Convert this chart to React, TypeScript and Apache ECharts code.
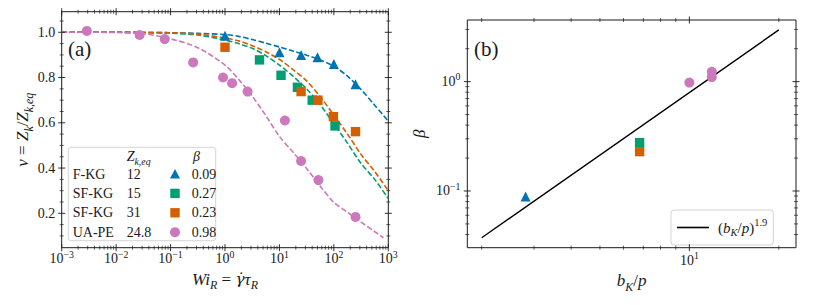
import React, { useEffect, useRef } from 'react';
import * as echarts from 'echarts';

const FONT = 'Liberation Serif, DejaVu Serif, serif';
const INK = '#1a1a1a';
const C_FKG = '#0173B2';
const C_SF15 = '#029E73';
const C_SF31 = '#D55E00';
const C_UAPE = '#CC78BC';

// ---------- Panel (a): fitted curves ----------
const WI_FIT = [0.001, 0.00316, 0.01, 0.0316, 0.1, 0.316, 1, 1.78, 3.16, 5.62, 10, 17.8, 31.6, 56.2, 100, 178, 316, 562, 1000];
const NU_FIT_FKG = [1.0, 1.0, 1.0, 0.999, 0.998, 0.995, 0.99, 0.982, 0.968, 0.952, 0.935, 0.917, 0.899, 0.878, 0.85, 0.806, 0.747, 0.678, 0.607];
const NU_FIT_SFKG15 = [1.0, 1.0, 1.0, 0.999, 0.996, 0.988, 0.966, 0.95, 0.929, 0.897, 0.855, 0.806, 0.75, 0.68, 0.595, 0.51, 0.42, 0.35, 0.265];
const NU_FIT_SFKG31 = [1.0, 1.0, 1.0, 0.999, 0.998, 0.992, 0.975, 0.962, 0.941, 0.914, 0.88, 0.835, 0.785, 0.715, 0.634, 0.55, 0.46, 0.385, 0.3];
const WI_FIT_UAPE = [0.001, 0.00316, 0.01, 0.0316, 0.1, 0.316, 1, 1.78, 3.16, 5.62, 10, 17.8, 31.6, 56.2, 100, 178, 316, 562, 813];
const NU_FIT_UAPE = [1.0, 1.0, 0.999, 0.994, 0.971, 0.932, 0.855, 0.792, 0.718, 0.632, 0.54, 0.47, 0.398, 0.32, 0.248, 0.205, 0.161, 0.119, 0.092];

// ---------- Panel (a): simulation points ----------
const WI_FKG = [1, 10, 25, 50, 100, 250];
const NU_FKG = [0.985, 0.912, 0.9, 0.89, 0.86, 0.77];
const WI_SFKG15 = [4.3, 10.7, 21.4, 40, 105];
const NU_SFKG15 = [0.878, 0.81, 0.757, 0.7, 0.586];
const WI_SFKG31 = [1, 25, 51, 98, 250];
const NU_SFKG31 = [0.934, 0.738, 0.7, 0.627, 0.561];
const WI_UAPE = [0.0029, 0.027, 0.078, 0.26, 0.92, 1.35, 2.6, 12.6, 25, 52, 250];
const NU_UAPE = [1.006, 0.988, 0.97, 0.867, 0.8, 0.775, 0.738, 0.61, 0.431, 0.347, 0.184];

// ---------- Panel (a) table legend ----------
const LEG_NAMES = ['F-KG', 'SF-KG', 'SF-KG', 'UA-PE'];
const LEG_ZEQ = ['12', '15', '31', '24.8'];
const LEG_BETA = ['0.09', '0.27', '0.23', '0.98'];

// ---------- Panel (b) ----------
const BKP_FKG = [2.81];
const BETA_FKG = [0.089];
const BKP_SFKG15 = [6.8];
const BETA_SFKG15 = [0.277];
const BKP_SFKG31 = [6.8];
const BETA_SFKG31 = [0.229];
const BKP_UAPE = [10, 11.9, 11.9];
const BETA_UAPE = [0.98, 1.23, 1.1];
const BKP_POWER = [2, 20];
const BETA_POWER = [0.0374, 2.97];

// ---------- Ticks ----------
const MANTISSA = [2, 3, 4, 5, 6, 7, 8, 9];
const A_X_DECADES = [0.001, 0.01, 0.1, 1, 10, 100];
const A_X_MAJOR = [0.001, 0.01, 0.1, 1, 10, 100, 1000];
const A_Y_MAJOR = [0.2, 0.4, 0.6, 0.8, 1.0];
const A_Y_MINOR = [0.1, 0.15, 0.25, 0.3, 0.35, 0.45, 0.5, 0.55, 0.65, 0.7, 0.75, 0.85, 0.9, 0.95, 1.05];
const B_X_MAJOR = [10];
const B_X_MINOR = [2, 3, 4, 5, 6, 7, 8, 9, 20];
const B_Y_MAJOR = [0.1, 1];
const B_Y_MINOR = [0.04, 0.05, 0.06, 0.07, 0.08, 0.09, 0.2, 0.3, 0.4, 0.5, 0.6, 0.7, 0.8, 0.9, 2, 3];

const TICK_FONT = 14;

const pts = (xs: number[], ys: number[]) => xs.map((x, i) => [x, ys[i]]);

const richSet = (size: number) => ({
  r: { fontFamily: FONT, fontSize: size, color: INK, lineHeight: size * 1.4 },
  i: { fontFamily: FONT, fontStyle: 'italic', fontSize: size, color: INK, lineHeight: size * 1.4 },
  g: { fontFamily: 'DejaVu Serif', fontStyle: 'italic', fontSize: size * 0.9, color: INK, lineHeight: size * 1.4 },
  sub: { fontFamily: FONT, fontStyle: 'italic', fontSize: size * 0.7, color: INK, lineHeight: size * 0.7, verticalAlign: 'bottom' },
  sup: { fontFamily: FONT, fontSize: size * 0.7, color: INK, lineHeight: size * 0.7, verticalAlign: 'top' },
});

const pow10Label = (v: number) => {
  const e = Math.round(Math.log10(v));
  if (Math.abs(v / Math.pow(10, e) - 1) > 1e-6) return '';
  return `{r|10}{sup|${e < 0 ? '−' + -e : e}}`;
};

// kind: 0 x-major, 1 x-minor, 2 y-major, 3 y-minor; 4th value: 1 = draw a label next to the left y tick
const tickData = (xMaj: number[], xMin: number[], yMaj: number[], yMin: number[], xRef: number, yRef: number, yLabels: number) => [
  ...xMaj.map((v) => [v, yRef, 0, 0]),
  ...xMin.map((v) => [v, yRef, 1, 0]),
  ...yMaj.map((v) => [xRef, v, 2, yLabels]),
  ...yMin.map((v) => [xRef, v, 3, 0]),
];

const renderTick = (params: any, api: any) => {
  const cs = params.coordSys;
  const kind = api.value(2);
  const withLabel = api.value(3) === 1;
  const p = api.coord([api.value(0), api.value(1)]);
  const major = kind === 0 || kind === 2;
  const len = major ? 3.5 : 2;
  const style = { stroke: INK, lineWidth: major ? 0.9 : 0.7 };
  if (kind < 2) {
    const x = p[0];
    return {
      type: 'group',
      children: [
        { type: 'line', shape: { x1: x, y1: cs.y + cs.height - len, x2: x, y2: cs.y + cs.height + len }, style },
        { type: 'line', shape: { x1: x, y1: cs.y - len, x2: x, y2: cs.y + len }, style },
      ],
    };
  }
  const y = p[1];
  const children: any[] = [
    { type: 'line', shape: { x1: cs.x - len, y1: y, x2: cs.x + len, y2: y }, style },
    { type: 'line', shape: { x1: cs.x + cs.width - len, y1: y, x2: cs.x + cs.width + len, y2: y }, style },
  ];
  if (withLabel) {
    children.push({
      type: 'text', x: cs.x - 6.5, y,
      style: { text: Number(api.value(1)).toFixed(1), fontFamily: FONT, fontSize: TICK_FONT, fill: INK, align: 'right', verticalAlign: 'middle' },
    });
  }
  return { type: 'group', children };
};

function buildOption() {
  const aXMinor = A_X_DECADES.flatMap((d) => MANTISSA.map((m) => +(m * d).toPrecision(3)));
  const dash = [5.5, 2.4];
  const fitLine = (name: string, xs: number[], ys: number[], color: string) => ({
    type: 'line', name, xAxisIndex: 0, yAxisIndex: 0, data: pts(xs, ys), symbol: 'none', showSymbol: false,
    smooth: 0.3, lineStyle: { color, width: 1.6, type: dash }, z: 2, silent: true,
  });
  const scat = (name: string, xi: number, xs: number[], ys: number[], color: string, symbol: string, size: number) => ({
    type: 'scatter', name, xAxisIndex: xi, yAxisIndex: xi, data: pts(xs, ys), symbol, symbolSize: size,
    itemStyle: { color, opacity: 1 }, z: 3, silent: true,
  });

  const rowY = (i: number) => 174 + i * 19.4;
  const legendSymbols = [
    (y: number) => ({ type: 'polygon', shape: { points: [[175, y - 5], [170, y + 4.5], [180, y + 4.5]] }, style: { fill: C_FKG } }),
    (y: number) => ({ type: 'rect', shape: { x: 170.3, y: y - 4.7, width: 9.4, height: 9.4 }, style: { fill: C_SF15 } }),
    (y: number) => ({ type: 'rect', shape: { x: 170.3, y: y - 4.7, width: 9.4, height: 9.4 }, style: { fill: C_SF31 } }),
    (y: number) => ({ type: 'circle', shape: { cx: 175, cy: y, r: 5 }, style: { fill: C_UAPE } }),
  ];
  const LEG_FONT = 14;
  const txt = (x: number, y: number, text: string, size = LEG_FONT) => ({
    type: 'text', x, y,
    style: { text, fontFamily: FONT, fontSize: size, fill: INK, align: 'left', verticalAlign: 'middle', rich: richSet(size) },
  });
  const tableChildren: any[] = [
    { type: 'rect', shape: { x: 68.3, y: 147.3, width: 147.4, height: 93.4, r: 3 }, style: { fill: 'rgba(255,255,255,0.85)', stroke: '#d4d4d4', lineWidth: 1 } },
    txt(126.7, 156.7, '{i|Z}{sub|k,eq}'),
    txt(193, 156.7, '{i|β}'),
  ];
  LEG_NAMES.forEach((n, i) => {
    const y = rowY(i);
    tableChildren.push(txt(72.7, y, `{r|${n}}`));
    tableChildren.push(txt(126.7, y, `{r|${LEG_ZEQ[i]}}`));
    tableChildren.push(legendSymbols[i](y));
    tableChildren.push(txt(191.7, y, `{r|${LEG_BETA[i]}}`));
  });

  const axisLabelBase = { fontFamily: FONT, fontSize: TICK_FONT, color: INK };
  const nameStyle = { fontFamily: FONT, fontSize: 17, color: INK, rich: richSet(17) };
  const hidden = { axisLine: { show: false }, axisTick: { show: false }, splitLine: { show: false }, minorTick: { show: false }, minorSplitLine: { show: false } };

  return {
    animation: false,
    backgroundColor: '#ffffff',
    grid: [
      { left: 61.7, top: 11.7, width: 326.6, height: 236, show: true, borderColor: INK, borderWidth: 1, backgroundColor: 'transparent', outerBoundsMode: 'none', containLabel: false },
      { left: 467.3, top: 20, width: 328.7, height: 227.7, show: true, borderColor: INK, borderWidth: 1, backgroundColor: 'transparent', outerBoundsMode: 'none', containLabel: false },
    ],
    xAxis: [
      {
        gridIndex: 0, type: 'log', logBase: 10, min: 0.001, max: 1000, ...hidden,
        axisLabel: { ...axisLabelBase, margin: 1.5, formatter: pow10Label, rich: richSet(TICK_FONT) },
        name: '{i|Wi}{sub|R}{r| = }{g|γ̇}{i|τ}{sub|R}', nameLocation: 'middle', nameGap: 14, nameTextStyle: nameStyle,
      },
      {
        gridIndex: 1, type: 'log', logBase: 10, min: 1.789, max: 22.85, ...hidden,
        axisLabel: { ...axisLabelBase, margin: 3, formatter: pow10Label, rich: richSet(TICK_FONT) },
        name: '{i|b}{sub|K}{r|/}{i|p}', nameLocation: 'middle', nameGap: 21, nameTextStyle: nameStyle,
      },
    ],
    yAxis: [
      {
        gridIndex: 0, type: 'value', min: 0.048, max: 1.091, ...hidden,
        axisLabel: { show: false },
        name: '{i|ν}{r| = }{i|Z}{sub|k}{r|/}{i|Z}{sub|k,eq}', nameLocation: 'middle', nameRotate: 90, nameGap: 27, nameTextStyle: nameStyle,
      },
      {
        gridIndex: 1, type: 'log', logBase: 10, min: 0.0303, max: 3.66, ...hidden,
        axisLabel: { ...axisLabelBase, margin: 7, formatter: pow10Label, rich: richSet(TICK_FONT) },
        name: '{i|β}', nameLocation: 'middle', nameRotate: 90, nameGap: 36, nameTextStyle: nameStyle,
      },
    ],
    legend: {
      show: true,
      data: [{ name: 'power', icon: 'rect', itemStyle: { color: '#000' } }],
      left: 671, top: 210,
      padding: [7, 6, 7, 6],
      itemWidth: 32, itemHeight: 1.6,
      borderColor: '#d4d4d4', borderWidth: 1, borderRadius: 3,
      backgroundColor: 'rgba(255,255,255,0.85)',
      selectedMode: false,
      formatter: () => '{r|(}{i|b}{sub|K}{r|/}{i|p}{r|)}{sup|1.9}',
      textStyle: { fontFamily: FONT, fontSize: 15, color: INK, padding: [0, 0, 0, 4], rich: richSet(15) },
    },
    graphic: [
      { type: 'text', x: 68, y: 49, z: 50, style: { text: '(a)', fontFamily: FONT, fontSize: 21, fill: INK, verticalAlign: 'middle' } },
      { type: 'text', x: 474, y: 49, z: 50, style: { text: '(b)', fontFamily: FONT, fontSize: 21, fill: INK, verticalAlign: 'middle' } },
      { type: 'group', z: 50, children: tableChildren },
    ],
    series: [
      fitLine('fit F-KG', WI_FIT, NU_FIT_FKG, C_FKG),
      fitLine('fit SF-KG 15', WI_FIT, NU_FIT_SFKG15, C_SF15),
      fitLine('fit SF-KG 31', WI_FIT, NU_FIT_SFKG31, C_SF31),
      fitLine('fit UA-PE', WI_FIT_UAPE, NU_FIT_UAPE, C_UAPE),
      scat('F-KG', 0, WI_FKG, NU_FKG, C_FKG, 'triangle', 10),
      scat('SF-KG 15', 0, WI_SFKG15, NU_SFKG15, C_SF15, 'rect', 9.4),
      scat('SF-KG 31', 0, WI_SFKG31, NU_SFKG31, C_SF31, 'rect', 9.4),
      scat('UA-PE', 0, WI_UAPE, NU_UAPE, C_UAPE, 'circle', 10),
      {
        type: 'line', name: 'power', xAxisIndex: 1, yAxisIndex: 1, data: pts(BKP_POWER, BETA_POWER),
        symbol: 'none', showSymbol: false, lineStyle: { color: '#000', width: 1.4 }, itemStyle: { color: '#000' }, z: 2, silent: true,
      },
      scat('b F-KG', 1, BKP_FKG, BETA_FKG, C_FKG, 'triangle', 10),
      scat('b SF-KG 15', 1, BKP_SFKG15, BETA_SFKG15, C_SF15, 'rect', 9.4),
      scat('b SF-KG 31', 1, BKP_SFKG31, BETA_SFKG31, C_SF31, 'rect', 9.4),
      scat('b UA-PE', 1, BKP_UAPE, BETA_UAPE, C_UAPE, 'circle', 10),
      {
        type: 'custom', name: 'ticks a', xAxisIndex: 0, yAxisIndex: 0, clip: false, silent: true, z: 5,
        encode: { x: 0, y: 1 },
        data: tickData(A_X_MAJOR, aXMinor, A_Y_MAJOR, A_Y_MINOR, 1, 0.5, 1),
        renderItem: renderTick,
      },
      {
        type: 'custom', name: 'ticks b', xAxisIndex: 1, yAxisIndex: 1, clip: false, silent: true, z: 5,
        encode: { x: 0, y: 1 },
        data: tickData(B_X_MAJOR, B_X_MINOR, B_Y_MAJOR, B_Y_MINOR, 5, 0.5, 0),
        renderItem: renderTick,
      },
    ],
  };
}

export default function App() {
  const ref = useRef<HTMLDivElement>(null);
  useEffect(() => {
    if (!ref.current) return;
    const chart = echarts.init(ref.current, undefined, { renderer: 'svg' });
    chart.setOption(buildOption() as any);
    return () => chart.dispose();
  }, []);
  return <div ref={ref} style={{ position: 'absolute', left: 0, top: 0, width: 814, height: 305, background: '#fff' }} />;
}
